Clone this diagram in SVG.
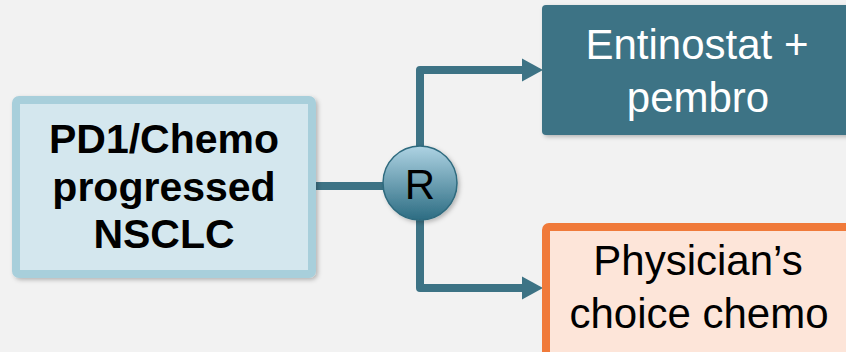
<svg xmlns="http://www.w3.org/2000/svg" width="846" height="352" viewBox="0 0 846 352">
<defs>
<style>
.conn{fill:none;stroke:#3d7385;stroke-width:8;stroke-linejoin:round}
.t{font-family:"Liberation Sans",Arial,sans-serif;font-size:42px;text-anchor:middle}
.b{font-weight:bold;font-size:41px}
</style>
<linearGradient id="rg" x1="0" y1="0" x2="0" y2="1">
<stop offset="0" stop-color="#aed3e3"/>
<stop offset="1" stop-color="#2c6c82"/>
</linearGradient>
<marker id="ah" markerWidth="22" markerHeight="24" refX="1" refY="12" orient="auto" markerUnits="userSpaceOnUse">
<path d="M0,0.5 L21,12 L0,23.5 Z" fill="#3d7385"/>
</marker>
<filter id="sh" x="-10%" y="-10%" width="130%" height="130%">
<feDropShadow dx="2" dy="2" stdDeviation="2" flood-color="#000" flood-opacity="0.25"/>
</filter>
</defs>
<rect width="846" height="352" fill="#f2f2f2"/>
<g id="connectors">
<path class="conn" d="M316,186 H384"/>
<path class="conn" d="M420,146 V70 H523" marker-end="url(#ah)"/>
<path class="conn" d="M420,220 V288 H523" marker-end="url(#ah)"/>
</g>
<g id="source">
<rect x="16" y="100" width="296" height="174" rx="3" fill="#d4e7ee" stroke="#a8cfdb" stroke-width="8" filter="url(#sh)"/>
<text class="t b" x="164" y="153">PD1/Chemo</text>
<text class="t b" x="164" y="201">progressed</text>
<text class="t b" x="164" y="248">NSCLC</text>
</g>
<g id="randomize">
<circle cx="420" cy="183" r="37" fill="url(#rg)" stroke="#2e6a7e" stroke-width="1.5" filter="url(#sh)"/>
<text class="t" x="420" y="199" font-size="44">R</text>
</g>
<g id="arm1">
<rect x="542" y="5" width="320" height="130" rx="4" fill="#3d7385" filter="url(#sh)"/>
<text class="t" x="697" y="59" fill="#ffffff">Entinostat +</text>
<text class="t" x="698" y="112" fill="#ffffff">pembro</text>
</g>
<g id="arm2">
<rect x="546" y="227" width="320" height="140" rx="3" fill="#fde5d9" stroke="#f07a3a" stroke-width="8"/>
<text class="t" x="698" y="275" fill="#000">Physician’s</text>
<text class="t" x="699" y="328" fill="#000">choice chemo</text>
</g>
</svg>
